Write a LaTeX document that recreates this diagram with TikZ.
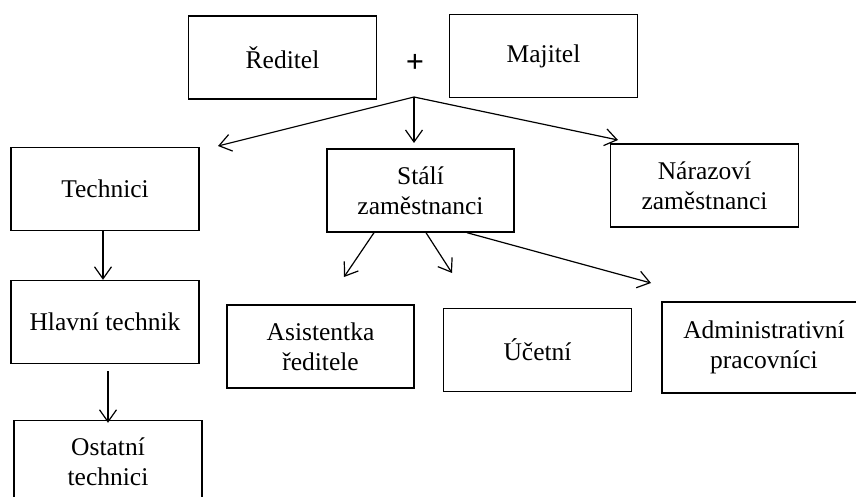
\documentclass[tikz,border=0pt]{standalone}
\usepackage{fontspec}
\setmainfont{Liberation Serif}
\usetikzlibrary{arrows.meta}
\begin{document}
\begin{tikzpicture}[x=1pt,y=-1pt,
  box/.style={draw, line width=1.4pt, minimum width=188pt, minimum height=83pt, align=center, inner sep=2pt,
    font=\fontsize{25.5}{30}\selectfont},
  arr/.style={line width=1.2pt, -{Straight Barb[length=12pt,width=17pt,line width=1.2pt]}}]
\clip (0,0) rectangle (856,497);
\fill[white] (0,0) rectangle (856,497);
% boxes
\node[box] (red) at (282.5,57.5) {Ředitel};
\node[box] (maj) at (543.5,56) {Majitel};
\node[font=\fontsize{32}{34}\selectfont\bfseries] (plus) at (415,63) {+};
\coordinate (j) at (414,97);
\node[box] (tech) at (105,189) {Technici};
\node[box, minimum width=187pt] (stali) at (420.5,190.5) {Stálí\\zaměstnanci};
\node[box] (naraz) at (704.5,185.5) {Nárazoví\\zaměstnanci};
\node[box] (hlavni) at (105,322) {Hlavní technik};
\node[box] (ostat) at (108,462) {Ostatní\\technici};
\node[box, minimum width=187pt] (asist) at (320.5,346.5) {Asistentka\\ředitele};
\node[box] (ucet) at (537.5,350) {Účetní};
\node[box, minimum width=204pt, minimum height=91pt] (admin) at (764,347.5) {Administrativní\\pracovníci};
% free arrow ends
\coordinate (t1) at (218,146);
\coordinate (t2) at (414,143);
\coordinate (t3) at (618,140);
\coordinate (s1) at (344,277);
\coordinate (s2) at (452,273);
\coordinate (s3) at (651,283);
% connectors
\draw[arr] (j) -- (t1);
\draw[arr] (j) -- (t2);
\draw[arr] (j) -- (t3);
\draw[arr] ([xshift=-2pt]tech.south) -- ([xshift=-2pt]hlavni.north);
\draw[arr] ([xshift=3pt,yshift=-7pt]hlavni.south) -- ([yshift=-3pt]ostat.north);
\draw[arr] ([xshift=-46.5pt]stali.south) -- (s1);
\draw[arr] ([xshift=5.5pt]stali.south) -- (s2);
\draw[arr] ([xshift=46.5pt]stali.south) -- (s3);
\end{tikzpicture}
\end{document}
